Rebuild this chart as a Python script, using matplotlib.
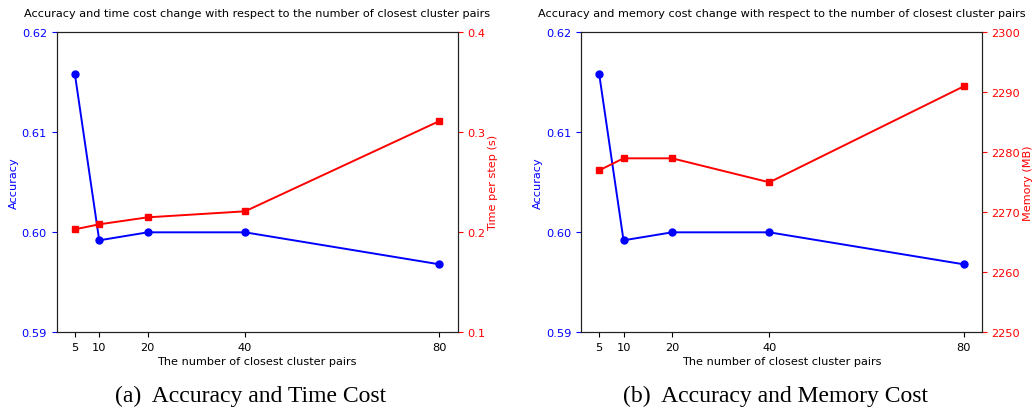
import matplotlib
matplotlib.use("Agg")
import matplotlib.pyplot as plt

pairs = [5, 10, 20, 40, 80]
accuracy = [0.6158, 0.5992, 0.6000, 0.6000, 0.5968]
time_per_step = [0.203, 0.208, 0.215, 0.221, 0.3113]
memory = [2277, 2279, 2279, 2275, 2291]

titles = ["Accuracy and time cost change with respect to the number of closest cluster pairs",
          "Accuracy and memory cost change with respect to the number of closest cluster pairs"]
right_labels = ["Time per step (s)", "Memory (MB)"]
captions = ["(a)  Accuracy and Time Cost", "(b)  Accuracy and Memory Cost"]

FS = 8.1
TFS = 8.2
fig = plt.figure(figsize=(10.35, 4.14), dpi=100)
lefts = [56.7 / 1035, 581 / 1035]
cap_x = [250.8 / 1035, 775.3 / 1035]
for i, (left, rseries) in enumerate(zip(lefts, [time_per_step, memory])):
    ax = fig.add_axes([left, 0.1949, 0.3874, 0.7246])
    ax.plot(pairs, accuracy, color="blue", marker="o", markersize=5, linewidth=1.4)
    ax.set_ylim(0.59, 0.62)
    ax.set_yticks([0.59, 0.60, 0.61, 0.62])
    ax.set_yticklabels(["0.59", "0.60", "0.61", "0.62"])
    ax.set_xticks(pairs)
    ax.set_ylabel("Accuracy", color="blue", fontsize=FS, labelpad=2)
    ax.tick_params(axis="y", colors="blue", labelsize=TFS)
    ax.tick_params(axis="x", labelsize=TFS)
    ax.set_xlabel("The number of closest cluster pairs", fontsize=FS, labelpad=2.5)
    ax.set_title(titles[i], fontsize=FS, pad=12)
    ax2 = ax.twinx()
    ax2.plot(pairs, rseries, color="red", marker="s", markersize=5, linewidth=1.4)
    if i == 0:
        ax2.set_ylim(0.1, 0.4)
        ax2.set_yticks([0.1, 0.2, 0.3, 0.4])
    else:
        ax2.set_ylim(2250, 2300)
        ax2.set_yticks([2250, 2260, 2270, 2280, 2290, 2300])
    ax2.set_ylabel(right_labels[i], color="red", fontsize=FS, labelpad=2)
    ax2.tick_params(axis="y", colors="red", labelsize=TFS)
    for a in (ax, ax2):
        for s in a.spines.values():
            s.set_color("#222222")
    fig.text(cap_x[i], 1 - 396.5 / 414, captions[i], ha="center", va="center",
             fontsize=17, family="Liberation Serif")

fig.savefig("out.png", dpi=100)
